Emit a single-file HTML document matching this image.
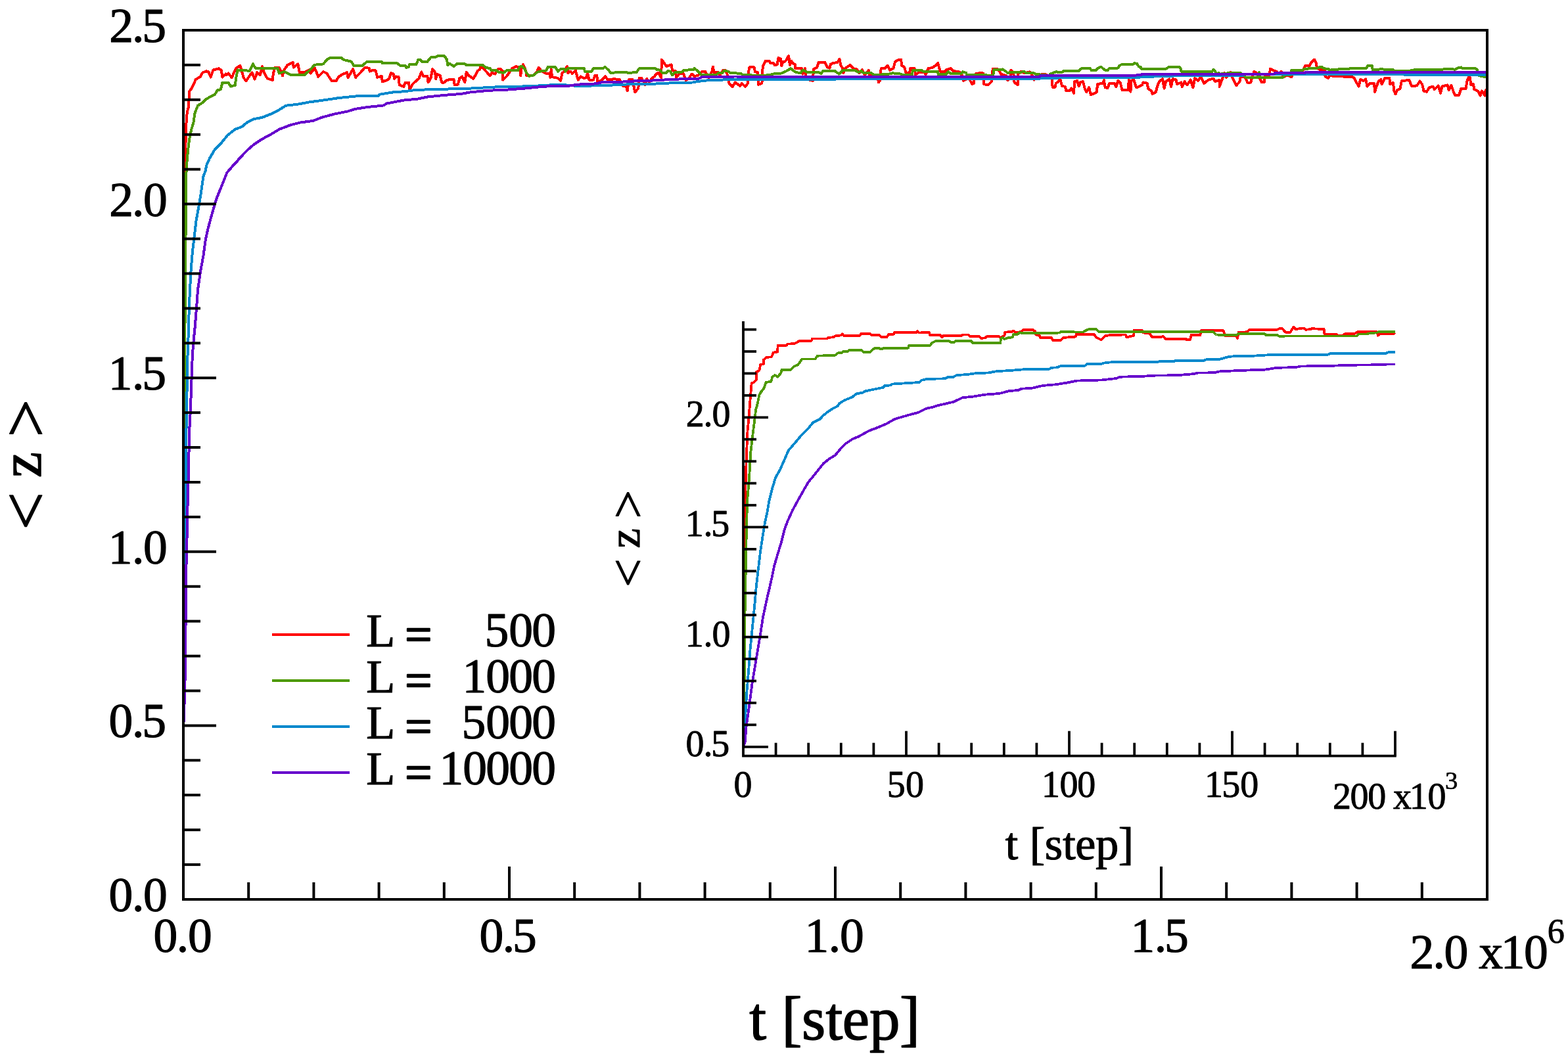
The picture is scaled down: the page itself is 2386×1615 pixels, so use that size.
<!DOCTYPE html>
<html><head><meta charset="utf-8"><title>plot</title><style>html,body{margin:0;padding:0;background:#fff;overflow:hidden;}svg{display:block;}</style></head><body>
<svg width="2386" height="1615" viewBox="0 0 2386 1615">
<rect width="2386" height="1615" fill="#ffffff"/>
<defs><clipPath id="mc"><rect x="279" y="46" width="1984" height="1323"/></clipPath></defs>
<g clip-path="url(#mc)" fill="none" shape-rendering="crispEdges" stroke-width="4" stroke-linejoin="round" stroke-linecap="butt">
<polyline stroke="#ff0000" points="279.5,1100.0 280.2,700.0 281.0,320.0 281.6,256.2 282.8,204.0 283.8,180.0 285.0,170.0 286.6,164.3 287.5,150.0 288.2,139.2 292.2,133.5 297.9,120.9 305.3,116.3 308.2,110.6 313.9,108.3 317.3,109.4 320.8,117.5 324.2,106.6 333.3,104.3 336.8,107.2 338.5,117.5 343.6,112.3 344.9,114.2 347.4,111.6 352.6,118.1 359.1,103.9 365.5,100.0 370.7,118.1 374.6,123.3 379.7,115.5 383.6,110.3 387.5,120.7 391.3,110.3 395.9,114.2 399.1,101.3 401.7,110.3 406.8,119.4 414.6,122.0 415.9,111.6 418.4,102.6 424.9,102.6 430.1,115.5 431.4,107.8 437.8,98.7 445.6,94.9 446.8,102.6 453.3,97.4 455.9,110.3 463.6,110.3 470.1,106.5 472.7,111.6 479.1,103.9 484.3,116.8 492.0,109.0 497.2,111.6 504.9,123.3 511.4,123.3 515.3,116.8 521.7,112.9 528.2,110.3 529.5,118.1 537.2,105.2 541.1,118.1 547.5,111.6 555.3,102.6 561.7,103.9 562.6,108.7 567.7,106.8 571.6,107.4 574.2,117.8 580.7,115.8 581.9,124.2 588.4,122.3 592.3,119.7 594.9,111.3 598.7,112.6 600.0,119.7 602.6,116.5 606.5,117.1 607.8,129.4 614.2,132.0 616.8,125.5 622.0,125.5 623.2,136.5 628.4,127.4 633.6,122.9 637.4,119.7 641.3,109.4 643.9,115.8 650.4,115.8 651.6,125.5 655.5,119.0 658.1,104.9 662.0,110.0 663.3,120.3 664.6,112.6 669.7,115.2 672.3,125.5 676.2,125.5 678.8,122.9 683.9,121.0 690.4,121.0 691.7,129.4 696.8,128.7 699.4,119.0 703.3,116.5 707.2,125.5 709.7,110.0 713.6,115.2 720.1,119.7 723.9,113.9 726.5,108.1 730.4,105.5 731.0,101.0 736.8,105.5 743.3,112.6 745.9,115.2 748.5,110.7 753.6,112.6 757.5,105.5 761.4,104.9 765.2,108.7 765.2,121.6 771.7,115.2 774.3,111.3 779.4,104.2 785.9,101.0 791.1,104.2 792.3,115.2 793.6,103.6 796.2,98.4 800.1,107.4 801.4,115.2 810.4,115.2 816.9,110.0 819.5,102.9 824.6,108.7 831.1,112.0 836.2,112.6 837.5,117.8 838.8,105.5 840.1,117.1 849.1,119.0 853.0,122.9 855.6,110.7 856.5,110.7 860.3,106.8 862.9,101.0 864.2,111.3 868.1,108.7 870.7,112.0 875.8,107.4 879.7,121.6 883.6,116.5 888.7,119.0 892.6,117.8 893.9,111.3 896.5,121.6 902.9,121.6 905.5,114.5 908.1,114.5 909.4,124.2 914.5,122.9 921.0,116.5 924.9,121.6 933.9,120.3 942.9,121.0 945.5,125.5 948.1,130.7 953.3,132.0 954.6,138.4 957.1,121.0 962.3,121.0 963.6,126.8 966.2,140.4 971.3,134.5 972.6,119.0 976.5,119.0 981.7,129.4 984.2,119.7 988.1,125.5 992.0,119.0 995.9,116.5 998.4,112.6 1002.3,110.7 1006.2,118.4 1006.8,90.7 1011.4,97.1 1013.9,101.0 1021.7,98.4 1023.0,107.4 1028.1,108.1 1028.8,118.4 1033.3,112.6 1039.7,111.3 1043.6,122.3 1048.8,118.4 1052.7,112.6 1056.5,115.8 1061.7,115.2 1068.2,108.7 1073.3,108.7 1078.5,119.0 1083.6,108.7 1084.9,101.6 1086.2,110.0 1092.7,110.0 1095.3,114.5 1100.4,106.8 1104.3,107.4 1106.9,113.9 1109.5,126.8 1114.6,132.0 1118.5,125.5 1126.2,130.7 1128.8,126.8 1134.0,132.0 1137.9,126.8 1139.1,108.7 1140.6,102.3 1147.7,102.3 1149.0,109.4 1152.9,110.0 1154.2,128.7 1159.4,126.8 1160.7,101.0 1164.5,93.2 1171.0,93.2 1172.3,95.8 1177.4,96.5 1178.7,99.0 1182.6,98.4 1184.5,88.1 1187.8,89.4 1189.1,100.3 1191.6,93.9 1194.2,93.9 1196.8,91.3 1200.0,84.8 1202.0,99.0 1204.5,93.2 1207.1,97.1 1209.7,97.8 1210.3,104.2 1220.0,104.2 1221.3,112.6 1225.2,104.2 1226.5,115.2 1231.6,121.6 1236.8,122.9 1238.1,104.9 1243.3,102.9 1245.8,94.5 1254.9,94.5 1258.8,102.3 1262.6,103.6 1263.9,97.8 1267.8,95.8 1274.2,95.2 1277.5,90.0 1279.4,99.7 1282.0,103.6 1283.3,111.3 1285.9,104.2 1293.6,99.0 1298.8,104.2 1303.9,105.5 1307.8,111.3 1311.7,106.1 1315.6,113.9 1322.0,106.8 1323.3,113.9 1334.9,113.9 1336.9,125.5 1338.8,122.9 1340.7,104.2 1346.5,104.2 1350.4,99.7 1354.3,106.8 1359.4,104.2 1362.0,93.9 1368.5,90.7 1371.1,90.7 1372.3,99.7 1376.2,102.3 1378.8,111.3 1384.0,111.3 1385.3,104.2 1391.7,104.2 1393.0,113.9 1398.2,110.0 1407.2,110.0 1408.5,113.9 1412.4,104.2 1418.8,102.9 1424.0,99.7 1427.2,95.8 1429.1,103.6 1431.3,109.4 1437.7,108.7 1440.3,106.1 1446.8,104.2 1450.7,108.1 1459.7,109.4 1463.6,113.9 1466.1,122.9 1468.7,121.6 1473.9,117.8 1479.1,128.1 1481.6,127.4 1484.2,112.6 1490.7,111.3 1495.8,111.3 1497.1,128.1 1503.6,129.4 1508.7,124.2 1510.7,104.9 1519.1,105.5 1522.9,112.6 1530.7,115.2 1533.3,122.3 1537.1,119.0 1538.4,106.8 1542.3,111.3 1543.6,125.5 1548.8,129.4 1549.4,112.6 1553.9,108.7 1559.1,111.3 1566.8,109.4 1569.4,112.0 1573.3,121.6 1576.8,118.4 1581.0,113.9 1590.0,112.6 1595.2,115.2 1600.4,119.0 1601.7,132.6 1605.5,132.6 1606.8,126.8 1610.7,124.2 1613.3,120.3 1615.9,130.7 1621.0,132.0 1622.3,138.4 1627.5,138.4 1630.1,134.5 1634.0,141.6 1635.2,124.2 1639.1,122.9 1641.7,131.3 1644.3,124.9 1648.1,124.2 1650.7,134.5 1653.3,140.4 1657.2,133.2 1659.8,144.2 1664.9,142.3 1668.8,140.4 1670.1,128.1 1677.8,126.8 1679.8,122.3 1681.7,133.2 1685.6,133.9 1688.2,126.8 1695.9,126.8 1698.5,132.0 1701.1,122.9 1705.0,126.8 1707.5,137.1 1716.6,137.1 1717.9,121.6 1720.4,139.7 1721.3,122.9 1725.2,121.6 1729.0,133.2 1732.9,132.0 1738.1,129.4 1739.4,125.5 1745.8,126.8 1747.1,135.2 1752.3,138.4 1753.6,142.9 1758.7,140.4 1761.3,130.7 1763.9,124.2 1769.1,120.3 1771.6,134.5 1774.2,124.2 1779.4,120.3 1782.0,132.0 1784.5,120.3 1789.7,121.6 1791.0,128.1 1797.4,125.5 1798.7,132.0 1802.6,124.2 1806.5,129.4 1811.6,121.6 1815.5,133.2 1818.1,119.0 1823.3,122.9 1827.1,116.5 1832.3,126.8 1838.8,121.6 1846.5,119.7 1849.1,124.2 1855.5,121.6 1855.5,132.0 1859.4,121.6 1863.3,111.3 1865.9,117.8 1872.3,110.0 1874.9,117.8 1881.4,130.0 1886.5,124.2 1887.8,116.5 1894.3,116.5 1898.1,125.5 1903.3,125.5 1905.9,115.2 1908.5,108.7 1912.3,111.3 1916.2,117.8 1920.1,125.5 1923.9,124.9 1925.2,114.5 1931.7,113.9 1933.0,104.9 1938.2,107.4 1942.0,108.7 1945.9,112.6 1949.8,108.7 1952.3,117.8 1958.8,114.5 1965.3,117.1 1967.8,108.7 1978.2,108.1 1983.3,106.8 1985.9,100.3 1992.4,100.3 1995.0,95.2 2000.1,90.7 2002.7,95.8 2004.0,103.6 2008.5,106.0 2015.5,107.2 2016.6,116.5 2021.3,118.8 2023.6,114.2 2030.6,116.5 2039.9,115.9 2049.2,117.1 2056.1,116.5 2060.8,118.8 2064.3,125.8 2067.7,131.6 2070.1,121.1 2074.7,122.9 2078.2,120.5 2080.5,131.6 2084.0,126.9 2091.0,126.9 2092.1,139.7 2094.5,131.6 2098.0,123.4 2101.4,121.1 2102.6,128.1 2107.2,118.8 2114.2,118.8 2115.4,128.1 2120.0,125.8 2121.2,137.4 2123.5,143.2 2125.8,137.4 2130.5,135.1 2132.8,123.4 2144.4,121.7 2147.9,131.0 2156.0,130.4 2160.7,123.4 2164.2,128.7 2166.5,138.5 2171.1,139.7 2174.6,133.3 2180.4,131.6 2182.8,136.2 2188.6,130.4 2192.1,142.0 2194.4,131.6 2202.5,129.3 2204.8,137.4 2208.3,129.8 2211.8,139.7 2214.1,144.9 2220.0,144.9 2223.4,135.1 2230.4,135.1 2232.7,122.3 2236.2,115.3 2238.5,129.3 2242.0,128.1 2243.2,136.2 2249.0,138.5 2252.5,145.5 2254.8,138.5 2259.4,145.5 2260.6,137.4 2265.0,137.4"/>
<polyline stroke="#4d9900" points="279.5,1100.0 280.3,700.0 281.0,591.0 281.3,526.0 281.8,450.0 282.4,373.6 283.0,297.0 283.6,256.2 286.1,227.8 288.7,208.4 291.3,196.8 294.5,186.5 296.5,172.3 301.0,160.7 307.4,156.8 312.6,151.6 319.1,147.8 326.8,143.9 330.7,137.5 335.8,136.2 338.4,125.8 347.4,125.8 351.3,131.6 357.8,129.7 359.1,119.4 361.6,106.5 379.7,107.8 384.9,97.4 388.8,103.9 422.3,103.9 424.9,111.6 432.6,109.0 443.0,114.2 463.6,114.2 471.4,106.5 479.1,98.7 492.0,97.4 497.2,91.0 502.3,87.8 519.1,87.8 523.0,91.0 534.6,93.6 538.5,100.0 551.4,100.0 557.9,94.2 560.0,93.9 580.7,93.9 581.9,96.5 603.9,95.8 609.0,99.7 616.8,99.7 618.1,102.9 622.0,101.6 623.2,97.8 633.6,97.8 636.2,91.3 640.0,91.3 642.6,93.9 650.4,93.9 655.5,87.4 663.3,86.8 665.8,85.2 676.2,85.2 680.0,90.7 681.3,99.0 683.9,96.5 690.4,101.0 695.5,97.1 707.2,97.1 709.7,99.0 734.3,99.0 739.4,102.9 745.9,104.2 747.2,107.4 756.2,107.4 758.8,110.0 766.5,110.7 771.7,106.8 788.5,106.8 791.1,101.6 794.9,101.0 798.8,105.5 801.4,111.3 805.3,115.8 811.7,114.5 818.2,109.4 824.6,108.1 831.1,107.4 833.7,101.6 845.3,102.3 849.1,108.7 853.0,104.9 859.0,104.9 860.3,108.7 864.2,104.2 888.7,104.2 890.0,108.7 900.3,108.7 902.9,104.2 918.4,103.6 920.3,101.6 926.2,106.8 928.7,110.7 953.3,110.0 955.8,111.0 968.8,110.0 972.6,104.2 997.2,104.2 999.7,106.1 1004.9,106.8 1007.5,110.7 1013.9,110.7 1016.5,108.1 1020.4,108.7 1023.0,114.5 1026.8,110.0 1037.2,110.0 1041.0,106.8 1055.2,106.1 1056.5,104.2 1061.7,108.1 1066.9,113.9 1090.1,113.9 1092.7,111.3 1099.1,111.3 1101.7,107.4 1108.2,108.7 1110.7,110.7 1127.5,112.0 1130.1,113.9 1144.3,114.5 1165.8,114.5 1174.9,113.2 1178.7,112.0 1187.8,112.0 1192.9,110.0 1196.8,108.1 1203.2,104.2 1209.7,109.4 1214.9,110.7 1218.7,110.7 1221.3,106.8 1225.2,108.1 1227.8,109.8 1245.8,110.0 1249.7,112.0 1252.3,108.1 1270.4,108.1 1276.8,112.6 1282.0,107.4 1301.4,107.4 1306.5,110.0 1310.4,108.1 1314.3,111.3 1325.9,111.3 1329.7,113.9 1350.4,113.2 1358.2,111.3 1371.1,112.6 1373.6,114.5 1387.8,113.9 1389.1,106.8 1402.0,106.8 1404.6,108.7 1426.6,108.7 1427.9,113.2 1440.3,112.6 1442.9,109.4 1446.8,112.0 1462.3,112.0 1464.9,109.4 1470.0,110.7 1471.3,113.9 1502.3,114.5 1511.3,114.5 1512.6,106.1 1525.5,105.5 1530.7,108.7 1533.3,111.3 1537.1,110.0 1559.1,109.4 1561.7,111.3 1572.0,110.7 1577.2,113.2 1590.0,113.9 1597.8,117.0 1597.8,112.6 1606.8,109.4 1615.9,110.0 1618.5,108.1 1641.7,108.1 1645.6,104.2 1658.5,104.2 1661.1,107.4 1667.5,107.4 1670.1,104.2 1675.3,101.6 1679.1,104.9 1681.7,106.8 1685.6,106.8 1688.2,103.6 1701.1,103.6 1703.7,99.7 1706.2,98.4 1724.3,97.8 1726.9,95.8 1727.7,96.5 1730.3,97.1 1732.9,101.6 1735.5,101.6 1736.8,104.9 1774.2,104.9 1778.1,102.3 1794.9,102.3 1797.4,105.5 1797.4,108.7 1802.6,109.4 1807.8,108.7 1840.0,108.7 1843.9,109.4 1846.5,106.1 1849.1,108.7 1851.7,115.2 1854.2,110.7 1856.8,112.6 1869.7,111.3 1887.8,111.3 1894.3,116.5 1896.8,118.4 1913.6,118.4 1916.2,110.0 1917.5,117.8 1952.3,117.8 1956.2,113.9 1963.9,113.9 1965.3,106.8 1982.0,106.8 1984.6,104.9 2004.0,103.6 2007.9,102.3 2011.7,102.3 2014.3,104.3 2021.3,104.9 2023.6,106.6 2035.2,106.0 2037.5,104.9 2052.6,104.9 2056.1,103.7 2079.4,103.7 2081.7,99.6 2087.5,99.6 2088.7,106.0 2101.4,105.4 2120.0,106.0 2122.3,108.3 2144.4,108.3 2147.9,106.9 2156.0,106.0 2189.7,106.2 2204.8,104.6 2209.5,104.9 2214.1,106.0 2218.8,103.1 2223.4,102.5 2225.7,104.3 2244.3,103.7 2247.8,106.0 2249.0,114.2 2253.6,115.9 2260.6,117.1 2265.0,117.1"/>
<polyline stroke="#0088cc" points="279.5,1100.0 280.5,950.0 281.5,859.9 282.2,783.6 283.0,722.0 283.2,670.0 284.1,619.0 285.6,535.8 287.2,497.6 287.7,469.0 289.1,440.4 290.6,411.8 292.9,383.1 295.2,364.0 298.6,335.4 302.1,316.3 305.3,297.3 309.5,268.6 312.6,260.0 314.3,251.5 319.1,240.7 326.8,227.8 335.8,218.8 346.2,205.9 357.8,196.8 368.1,193.0 375.8,186.5 386.2,181.3 399.1,178.8 412.0,173.6 424.9,167.1 435.2,160.7 453.3,158.7 470.1,155.5 489.4,152.9 515.3,149.1 541.1,146.5 560.0,146.2 575.5,146.2 578.1,143.6 598.7,140.3 616.8,139.1 632.3,136.9 660.7,136.1 717.5,134.5 740.7,133.2 756.2,132.3 805.3,131.3 837.5,129.4 860.0,129.3 878.4,131.0 922.3,130.0 961.0,128.1 1004.9,127.4 1028.1,125.8 1054.0,125.5 1061.7,124.0 1077.2,122.3 1103.0,121.4 1150.0,121.3 1270.0,121.4 1271.0,120.3 1380.0,120.3 1381.0,119.7 1582.0,119.9 1583.0,118.8 1610.0,118.8 1611.0,117.8 1720.0,117.8 1755.0,117.1 1756.0,115.8 1785.0,115.8 1786.0,114.5 1892.0,114.5 1893.0,113.2 2005.0,112.8 2136.0,112.8 2137.0,113.6 2265.0,113.6"/>
<polyline stroke="#6600cc" points="279.5,1100.0 281.3,1050.0 281.9,1010.0 282.5,972.0 282.6,900.0 283.4,863.7 284.3,829.3 285.6,765.8 287.0,720.0 287.2,705.5 288.1,657.0 289.5,631.7 291.0,593.6 292.0,563.0 292.9,539.6 294.8,516.7 296.7,497.6 299.0,469.0 301.1,440.4 305.3,411.8 309.5,388.9 312.9,364.0 316.8,346.9 322.5,325.9 329.2,303.0 337.7,282.0 345.4,262.9 352.0,255.0 360.4,245.9 365.4,240.0 377.1,227.8 386.2,220.1 397.8,212.3 412.0,204.6 424.9,196.8 441.7,190.4 457.2,186.5 476.5,183.9 489.4,178.8 508.8,173.6 528.2,169.7 541.1,165.8 560.0,162.9 584.5,160.4 587.1,157.8 614.2,152.6 634.9,150.7 650.4,147.5 676.2,144.9 702.0,142.9 716.2,140.3 743.3,137.8 773.0,136.5 798.8,134.5 824.6,132.0 844.0,130.7 862.9,131.2 878.4,128.7 906.8,127.4 914.5,125.5 958.4,124.2 968.8,122.9 1004.9,122.3 1015.2,121.0 1063.0,119.7 1068.2,117.1 1118.5,116.5 1150.0,116.7 1582.0,116.7 1583.0,115.2 1720.0,115.2 1737.0,113.9 1738.0,112.6 1939.0,112.6 1940.0,111.3 1985.0,111.3 1986.0,110.2 2265.0,110.1"/>
</g>
<g stroke="#000" stroke-width="4" fill="none">
<rect x="279" y="46" width="1984" height="1323"/>
<line x1="279" y1="1316.1" x2="305" y2="1316.1"/>
<line x1="279" y1="1263.2" x2="305" y2="1263.2"/>
<line x1="279" y1="1210.2" x2="305" y2="1210.2"/>
<line x1="279" y1="1157.3" x2="305" y2="1157.3"/>
<line x1="279" y1="1104.4" x2="329" y2="1104.4"/>
<line x1="279" y1="1051.5" x2="305" y2="1051.5"/>
<line x1="279" y1="998.6" x2="305" y2="998.6"/>
<line x1="279" y1="945.6" x2="305" y2="945.6"/>
<line x1="279" y1="892.7" x2="305" y2="892.7"/>
<line x1="279" y1="839.8" x2="329" y2="839.8"/>
<line x1="279" y1="786.9" x2="305" y2="786.9"/>
<line x1="279" y1="734.0" x2="305" y2="734.0"/>
<line x1="279" y1="681.0" x2="305" y2="681.0"/>
<line x1="279" y1="628.1" x2="305" y2="628.1"/>
<line x1="279" y1="575.2" x2="329" y2="575.2"/>
<line x1="279" y1="522.3" x2="305" y2="522.3"/>
<line x1="279" y1="469.4" x2="305" y2="469.4"/>
<line x1="279" y1="416.4" x2="305" y2="416.4"/>
<line x1="279" y1="363.5" x2="305" y2="363.5"/>
<line x1="279" y1="310.6" x2="329" y2="310.6"/>
<line x1="279" y1="257.7" x2="305" y2="257.7"/>
<line x1="279" y1="204.8" x2="305" y2="204.8"/>
<line x1="279" y1="151.8" x2="305" y2="151.8"/>
<line x1="279" y1="98.9" x2="305" y2="98.9"/>
<line x1="378.2" y1="1369" x2="378.2" y2="1343"/>
<line x1="477.4" y1="1369" x2="477.4" y2="1343"/>
<line x1="576.6" y1="1369" x2="576.6" y2="1343"/>
<line x1="675.8" y1="1369" x2="675.8" y2="1343"/>
<line x1="775.0" y1="1369" x2="775.0" y2="1319"/>
<line x1="874.2" y1="1369" x2="874.2" y2="1343"/>
<line x1="973.4" y1="1369" x2="973.4" y2="1343"/>
<line x1="1072.6" y1="1369" x2="1072.6" y2="1343"/>
<line x1="1171.8" y1="1369" x2="1171.8" y2="1343"/>
<line x1="1271.0" y1="1369" x2="1271.0" y2="1319"/>
<line x1="1370.2" y1="1369" x2="1370.2" y2="1343"/>
<line x1="1469.4" y1="1369" x2="1469.4" y2="1343"/>
<line x1="1568.6" y1="1369" x2="1568.6" y2="1343"/>
<line x1="1667.8" y1="1369" x2="1667.8" y2="1343"/>
<line x1="1767.0" y1="1369" x2="1767.0" y2="1319"/>
<line x1="1866.2" y1="1369" x2="1866.2" y2="1343"/>
<line x1="1965.4" y1="1369" x2="1965.4" y2="1343"/>
<line x1="2064.6" y1="1369" x2="2064.6" y2="1343"/>
<line x1="2163.8" y1="1369" x2="2163.8" y2="1343"/>
</g>
<g fill="none" shape-rendering="crispEdges" stroke-width="3.8" stroke-linejoin="round">
<polyline stroke="#ff0000" points="1131.0,1125.0 1132.0,900.0 1133.0,833.6 1133.9,762.4 1134.8,726.8 1136.0,691.2 1137.5,655.6 1139.2,640.0 1140.5,622.0 1141.8,605.2 1143.7,583.3 1146.9,582.0 1150.8,578.1 1150.8,566.5 1155.3,563.9 1157.3,554.9 1161.8,554.2 1161.8,547.8 1166.3,543.9 1174.1,543.3 1176.6,536.8 1183.1,535.5 1183.7,525.8 1196.6,525.8 1198.6,523.6 1208.9,523.2 1212.8,521.0 1215.4,519.4 1234.7,518.7 1236.0,515.5 1258.0,515.5 1260.5,513.8 1268.3,513.3 1270.9,511.4 1280.0,510.3 1281.8,508.4 1283.8,511.0 1308.3,511.0 1310.2,507.8 1323.8,507.8 1326.4,509.9 1338.0,509.9 1341.2,512.9 1349.6,512.9 1352.2,509.0 1360.0,508.7 1361.2,505.8 1394.8,505.8 1396.1,503.9 1398.7,506.5 1414.1,505.8 1414.8,509.7 1430.8,509.7 1433.2,513.3 1435.5,511.0 1463.4,511.0 1464.9,509.4 1473.4,509.4 1475.8,512.1 1489.7,512.1 1492.8,514.9 1499.0,514.4 1502.1,511.8 1519.1,511.8 1522.2,514.1 1528.4,511.0 1529.2,505.6 1539.3,505.1 1542.4,503.5 1545.5,506.3 1554.8,504.8 1557.1,501.7 1571.0,501.7 1574.9,504.0 1576.4,509.4 1581.9,511.0 1582.6,513.8 1599.7,513.8 1602.0,518.0 1613.6,518.0 1618.3,514.1 1626.0,513.3 1636.9,512.5 1637.6,508.7 1664.7,508.7 1667.8,513.3 1675.6,517.2 1681.8,511.0 1689.5,510.2 1712.7,509.4 1714.3,513.3 1725.1,511.0 1725.9,502.5 1737.5,502.5 1739.1,506.3 1749.9,507.9 1753.0,513.3 1765.4,513.3 1770.1,511.8 1773.1,515.7 1804.1,515.7 1805.6,517.2 1811.0,517.2 1812.6,510.0 1826.5,510.0 1827.3,503.3 1861.4,503.3 1862.9,507.2 1864.5,511.5 1881.5,511.5 1883.1,514.9 1884.6,505.9 1897.0,505.3 1901.7,501.8 1943.5,501.8 1946.6,500.2 1951.2,500.2 1955.9,505.6 1963.6,505.6 1968.3,497.9 1971.4,501.0 1983.8,499.4 1986.9,501.8 1994.6,501.0 1996.1,500.2 2014.7,501.0 2015.5,508.4 2033.3,508.7 2034.9,510.6 2044.2,510.6 2045.7,508.4 2061.2,508.0 2065.8,505.3 2095.3,505.3 2096.8,510.6 2099.9,508.4 2120.1,508.4 2123.2,506.4"/>
<polyline stroke="#4d9900" points="1131.0,1125.0 1132.5,1050.0 1133.9,900.0 1134.8,869.2 1135.7,815.8 1137.1,762.4 1140.1,726.8 1142.4,687.6 1145.5,660.9 1148.5,637.8 1150.2,623.3 1152.8,614.2 1155.3,601.3 1157.9,596.8 1162.4,591.0 1165.7,582.0 1173.4,580.7 1175.3,573.6 1179.2,571.0 1183.7,573.6 1188.3,567.8 1189.5,562.6 1203.7,562.6 1208.9,557.4 1214.1,555.5 1219.2,548.4 1220.5,546.5 1240.5,546.5 1243.8,541.7 1270.9,540.7 1274.7,537.4 1281.2,536.8 1283.1,535.2 1290.2,534.9 1292.8,532.9 1310.9,533.2 1313.5,535.8 1323.8,535.8 1330.2,530.3 1336.7,529.7 1340.6,531.6 1345.7,529.7 1381.9,529.7 1383.2,525.8 1415.4,525.8 1418.0,522.0 1424.6,518.7 1443.2,518.7 1446.3,520.6 1452.5,520.6 1454.1,518.7 1477.3,518.7 1480.4,522.1 1522.2,522.1 1523.0,515.6 1525.3,513.8 1528.4,515.9 1534.6,514.1 1540.8,513.3 1542.4,508.7 1548.6,508.7 1551.7,506.0 1554.8,507.1 1612.1,506.6 1613.6,505.1 1647.7,505.6 1652.3,503.2 1657.0,500.9 1667.8,500.9 1671.7,504.8 1845.9,504.6 1850.5,509.5 1862.9,510.0 1881.5,510.0 1884.6,508.0 1924.9,508.4 1926.4,510.0 1943.5,510.0 1946.6,511.8 1960.5,511.5 2064.3,511.5 2067.4,508.4 2079.8,508.4 2086.0,506.9 2095.3,506.4 2098.4,504.9 2123.2,504.9"/>
<polyline stroke="#0088cc" points="1131.5,1130.0 1133.6,1101.6 1136.2,1055.3 1139.0,1022.2 1141.5,989.2 1144.8,956.1 1148.1,923.0 1151.1,890.0 1153.5,869.2 1156.7,842.5 1160.6,815.8 1164.2,794.4 1167.4,780.2 1170.4,762.4 1174.8,744.6 1180.2,726.8 1187.3,714.3 1193.5,700.1 1199.7,685.8 1210.4,673.4 1219.3,662.7 1230.0,652.0 1237.1,643.1 1247.8,637.8 1252.8,632.3 1259.2,627.2 1267.0,622.0 1274.7,618.1 1277.3,614.2 1285.1,609.1 1296.7,604.6 1303.1,599.4 1313.5,597.5 1316.0,595.5 1331.5,592.3 1344.4,589.7 1345.7,587.1 1354.8,586.5 1357.3,584.6 1398.7,582.0 1402.5,578.7 1411.6,576.8 1420.0,576.7 1438.6,576.3 1441.7,574.2 1451.0,573.7 1455.6,571.1 1471.1,570.1 1486.6,568.0 1503.6,567.5 1516.0,565.2 1530.0,564.4 1551.7,562.9 1561.0,561.8 1596.6,561.8 1599.7,559.8 1609.0,559.3 1613.6,557.1 1650.8,556.7 1653.9,554.3 1675.6,554.0 1680.2,552.5 1691.1,551.3 1760.8,551.3 1763.9,550.0 1785.5,550.3 1788.6,549.0 1832.0,548.7 1835.1,547.4 1856.7,546.7 1869.1,543.1 1884.6,541.6 1909.4,541.6 1938.8,539.7 2020.9,539.7 2024.0,538.2 2107.7,538.2 2113.9,535.8 2123.2,535.8"/>
<polyline stroke="#6600cc" points="1132.0,1134.0 1133.6,1129.7 1135.7,1104.9 1138.2,1088.3 1141.5,1063.6 1144.8,1038.8 1149.0,1014.0 1153.1,989.2 1157.2,964.4 1161.0,939.6 1166.3,914.8 1172.1,890.0 1174.8,878.1 1178.4,860.3 1183.7,842.5 1189.1,824.7 1193.5,806.9 1198.0,794.4 1206.0,776.6 1215.8,758.8 1223.8,744.6 1230.0,733.9 1238.9,723.2 1246.0,714.3 1253.1,705.4 1262.0,698.3 1270.9,693.0 1279.8,682.3 1287.0,675.2 1297.6,668.1 1306.5,664.5 1322.5,655.6 1336.8,650.3 1349.2,644.9 1361.7,637.8 1380.6,632.3 1397.4,627.8 1409.0,622.0 1420.0,619.5 1427.7,617.1 1451.0,611.7 1464.9,605.2 1478.9,603.9 1497.4,600.8 1520.7,599.0 1534.6,595.4 1550.1,593.8 1553.2,591.8 1570.2,590.8 1587.3,586.9 1605.9,585.3 1622.9,582.7 1638.4,579.6 1677.1,578.4 1698.8,576.0 1703.5,573.7 1737.5,572.9 1760.8,571.4 1770.0,571.6 1797.9,570.7 1816.5,569.1 1822.7,567.6 1847.4,567.3 1856.7,565.3 1893.9,563.7 1924.9,562.6 1943.5,559.8 1971.4,559.1 1979.1,557.5 2017.8,557.1 2055.0,555.7 2107.7,555.2 2110.8,554.4 2123.2,554.4"/>
</g>
<g stroke="#000" stroke-width="3.8" fill="none">
<polyline points="1131.0,489.0 1131.0,1150.7 2124.8,1150.7"/>
<line x1="1131.0" y1="1136.8" x2="1169.0" y2="1136.8"/>
<line x1="1131.0" y1="1103.3" x2="1151.0" y2="1103.3"/>
<line x1="1131.0" y1="1069.9" x2="1151.0" y2="1069.9"/>
<line x1="1131.0" y1="1036.5" x2="1151.0" y2="1036.5"/>
<line x1="1131.0" y1="1003.0" x2="1151.0" y2="1003.0"/>
<line x1="1131.0" y1="969.6" x2="1169.0" y2="969.6"/>
<line x1="1131.0" y1="936.2" x2="1151.0" y2="936.2"/>
<line x1="1131.0" y1="902.7" x2="1151.0" y2="902.7"/>
<line x1="1131.0" y1="869.3" x2="1151.0" y2="869.3"/>
<line x1="1131.0" y1="835.9" x2="1151.0" y2="835.9"/>
<line x1="1131.0" y1="802.4" x2="1169.0" y2="802.4"/>
<line x1="1131.0" y1="769.0" x2="1151.0" y2="769.0"/>
<line x1="1131.0" y1="735.6" x2="1151.0" y2="735.6"/>
<line x1="1131.0" y1="702.2" x2="1151.0" y2="702.2"/>
<line x1="1131.0" y1="668.7" x2="1151.0" y2="668.7"/>
<line x1="1131.0" y1="635.3" x2="1169.0" y2="635.3"/>
<line x1="1131.0" y1="601.9" x2="1151.0" y2="601.9"/>
<line x1="1131.0" y1="568.4" x2="1151.0" y2="568.4"/>
<line x1="1131.0" y1="535.0" x2="1151.0" y2="535.0"/>
<line x1="1131.0" y1="501.6" x2="1151.0" y2="501.6"/>
<line x1="1180.6" y1="1150.7" x2="1180.6" y2="1130.7"/>
<line x1="1230.2" y1="1150.7" x2="1230.2" y2="1130.7"/>
<line x1="1279.8" y1="1150.7" x2="1279.8" y2="1130.7"/>
<line x1="1329.4" y1="1150.7" x2="1329.4" y2="1130.7"/>
<line x1="1379.0" y1="1150.7" x2="1379.0" y2="1112.7"/>
<line x1="1428.6" y1="1150.7" x2="1428.6" y2="1130.7"/>
<line x1="1478.2" y1="1150.7" x2="1478.2" y2="1130.7"/>
<line x1="1527.8" y1="1150.7" x2="1527.8" y2="1130.7"/>
<line x1="1577.4" y1="1150.7" x2="1577.4" y2="1130.7"/>
<line x1="1627.0" y1="1150.7" x2="1627.0" y2="1112.7"/>
<line x1="1676.6" y1="1150.7" x2="1676.6" y2="1130.7"/>
<line x1="1726.2" y1="1150.7" x2="1726.2" y2="1130.7"/>
<line x1="1775.8" y1="1150.7" x2="1775.8" y2="1130.7"/>
<line x1="1825.4" y1="1150.7" x2="1825.4" y2="1130.7"/>
<line x1="1875.0" y1="1150.7" x2="1875.0" y2="1112.7"/>
<line x1="1924.6" y1="1150.7" x2="1924.6" y2="1130.7"/>
<line x1="1974.2" y1="1150.7" x2="1974.2" y2="1130.7"/>
<line x1="2023.8" y1="1150.7" x2="2023.8" y2="1130.7"/>
<line x1="2073.4" y1="1150.7" x2="2073.4" y2="1130.7"/>
<line x1="2123.0" y1="1150.7" x2="2123.0" y2="1112.7"/>
</g>
<g font-family="'Liberation Serif','Times New Roman',serif" fill="#000" stroke-linejoin="round">
<text x="165.6 201.0 218.1" y="1387.0" font-size="73.5" stroke="#000" stroke-width="1.2">0.0</text>
<text x="165.6 201.0 216.3" y="1122.4" font-size="73.5" stroke="#000" stroke-width="1.2">0.5</text>
<text x="164.7 201.0 218.1" y="857.8" font-size="73.5" stroke="#000" stroke-width="1.2">1.0</text>
<text x="164.7 201.0 216.3" y="593.2" font-size="73.5" stroke="#000" stroke-width="1.2">1.5</text>
<text x="166.2 201.0 218.1" y="328.6" font-size="73.5" stroke="#000" stroke-width="1.2">2.0</text>
<text x="166.2 201.0 216.3" y="64.0" font-size="73.5" stroke="#000" stroke-width="1.2">2.5</text>
<text x="233.4 268.8 285.9" y="1449" font-size="73.5" stroke="#000" stroke-width="1.2">0.0</text>
<text x="729.4 764.8 780.1" y="1449" font-size="73.5" stroke="#000" stroke-width="1.2">0.5</text>
<text x="1224.5 1260.8 1277.9" y="1449" font-size="73.5" stroke="#000" stroke-width="1.2">1.0</text>
<text x="1720.5 1756.8 1772.1" y="1449" font-size="73.5" stroke="#000" stroke-width="1.2">1.5</text>
<text x="2145.6 2180.5 2197.5 2234.3 2250.3 2283.8 2319.1" y="1474" font-size="73.5" stroke="#000" stroke-width="1.2">2.0 x10</text>
<text x="2354.8" y="1434.9" font-size="52" stroke="#000" stroke-width="0.9">6</text>
<text x="1140.2 1166.0 1189.5 1220.0 1256.4 1281.8 1323.0 1368.9" y="1582" font-size="93" stroke="#000" stroke-width="1.5">t [step]</text>
<text transform="translate(73.4,777.7) rotate(-90)" font-size="102" stroke="#000" stroke-width="1.5" text-anchor="middle">&lt;</text>
<text transform="translate(62.2,707.4) rotate(-90)" font-size="88" stroke="#000" stroke-width="1.5" text-anchor="middle">z</text>
<text transform="translate(73.4,636.8) rotate(-90)" font-size="102" stroke="#000" stroke-width="1.5" text-anchor="middle">&gt;</text>
<text x="557.2" y="984" font-size="72" stroke="#000" stroke-width="1.2">L</text>
<text x="616.6" y="989.9" font-size="72" stroke="#000" stroke-width="2.5">=</text>
<text x="737.5 774.2 809.2" y="984" font-size="73.5" stroke="#000" stroke-width="1.2">500</text>
<text x="557.2" y="1054" font-size="72" stroke="#000" stroke-width="1.2">L</text>
<text x="616.6" y="1059.9" font-size="72" stroke="#000" stroke-width="2.5">=</text>
<text x="703.4 739.2 774.2 809.2" y="1054" font-size="73.5" stroke="#000" stroke-width="1.2">1000</text>
<text x="557.2" y="1124" font-size="72" stroke="#000" stroke-width="1.2">L</text>
<text x="616.6" y="1129.9" font-size="72" stroke="#000" stroke-width="2.5">=</text>
<text x="702.5 739.2 774.2 809.2" y="1124" font-size="73.5" stroke="#000" stroke-width="1.2">5000</text>
<text x="557.2" y="1194" font-size="72" stroke="#000" stroke-width="1.2">L</text>
<text x="616.6" y="1199.9" font-size="72" stroke="#000" stroke-width="2.5">=</text>
<text x="668.4 704.2 739.2 774.2 809.2" y="1194" font-size="73.5" stroke="#000" stroke-width="1.2">10000</text>
<text x="1043.4 1070.5 1082.2" y="1150.8" font-size="56" stroke="#000" stroke-width="0.9">0.5</text>
<text x="1042.7 1070.5 1083.5" y="983.6" font-size="56" stroke="#000" stroke-width="0.9">1.0</text>
<text x="1042.7 1070.5 1082.2" y="816.4" font-size="56" stroke="#000" stroke-width="0.9">1.5</text>
<text x="1043.8 1070.5 1083.5" y="649.3" font-size="56" stroke="#000" stroke-width="0.9">2.0</text>
<text x="1116.5" y="1212.5" font-size="56" stroke="#000" stroke-width="0.9">0</text>
<text x="1349.8 1377.9" y="1212.5" font-size="56" stroke="#000" stroke-width="0.9">50</text>
<text x="1585.1 1612.5 1639.2" y="1212.5" font-size="56" stroke="#000" stroke-width="0.9">100</text>
<text x="1833.1 1859.2 1887.2" y="1212.5" font-size="56" stroke="#000" stroke-width="0.9">150</text>
<text x="2028.1 2054.4 2081.2 2109.2 2120.1 2144.8 2172.4" y="1231" font-size="56" stroke="#000" stroke-width="0.9">200 x10</text>
<text x="2199.1" y="1200.6" font-size="38.7" stroke="#000" stroke-width="0.7">3</text>
<text x="1529.7 1549.1 1566.8 1589.7 1617.2 1636.3 1667.3 1701.8" y="1307.5" font-size="70" stroke="#000" stroke-width="1.2">t [step]</text>
<text transform="translate(981.1,872.0) rotate(-90)" font-size="77" stroke="#000" stroke-width="1.2" text-anchor="middle">&lt;</text>
<text transform="translate(972.6,819.4) rotate(-90)" font-size="68" stroke="#000" stroke-width="1.2" text-anchor="middle">z</text>
<text transform="translate(981.1,767.5) rotate(-90)" font-size="77" stroke="#000" stroke-width="1.2" text-anchor="middle">&gt;</text>
</g>
<line x1="414" y1="966" x2="532" y2="966" stroke="#ff0000" stroke-width="4"/>
<line x1="414" y1="1036" x2="532" y2="1036" stroke="#4d9900" stroke-width="4"/>
<line x1="414" y1="1106" x2="532" y2="1106" stroke="#0088cc" stroke-width="4"/>
<line x1="414" y1="1176" x2="532" y2="1176" stroke="#6600cc" stroke-width="4"/>
</svg>
</body></html>
